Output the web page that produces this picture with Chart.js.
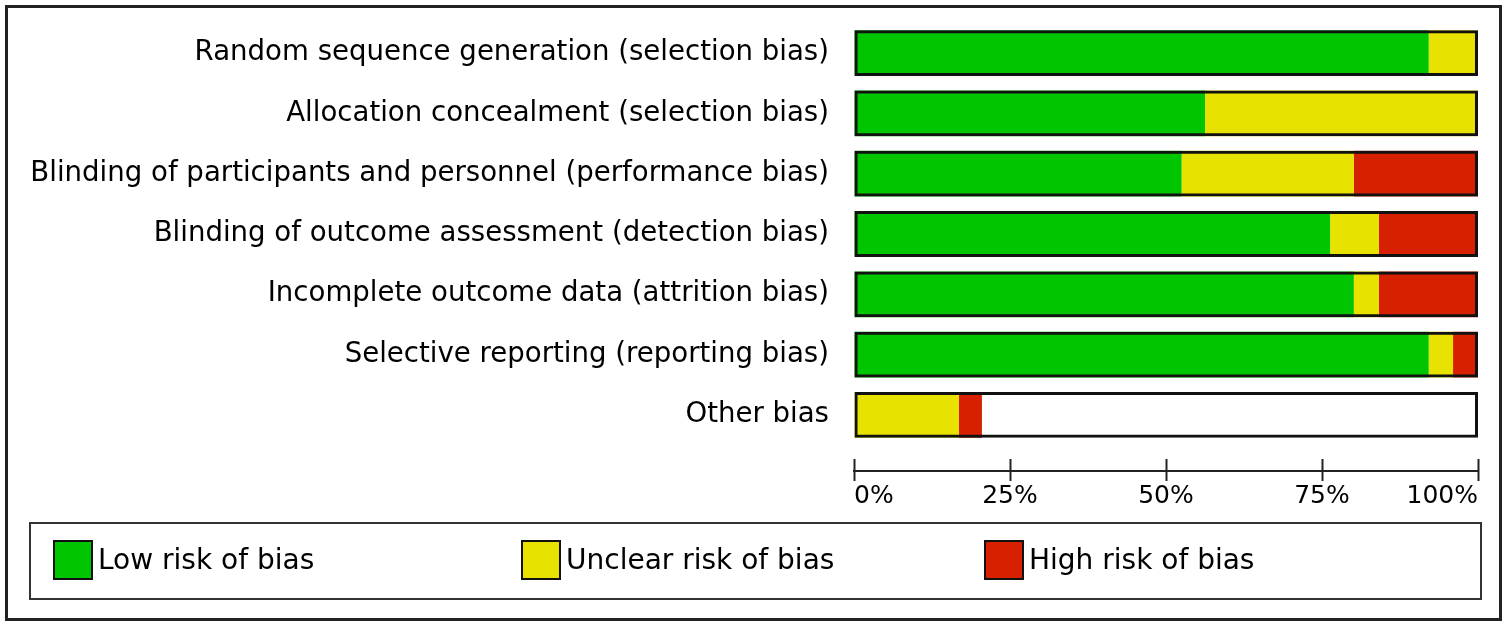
<!DOCTYPE html>
<html>
<head>
<meta charset="utf-8">
<title>Risk of bias graph</title>
<script src="https://cdn.jsdelivr.net/npm/chart.js@4.4.0/dist/chart.umd.min.js"></script>
<style>
    body { margin: 0; background: #fff; font-family: "DejaVu Sans", sans-serif; }
    #wrap { position: relative; width: 1508px; height: 628px; overflow: hidden; }
    #myChart { position: absolute; left: 0; top: 0; }
    #outerFrame { position: absolute; left: 5px; top: 5px; width: 1491px; height: 610px; border: 3px solid #222; }
    #legendBox { position: absolute; left: 29px; top: 522px; width: 1449px; height: 74px; border: 2px solid #333; }
    .legend-item { position: absolute; top: 16px; height: 40px; line-height: 40px; font-size: 28px; color: #000; white-space: nowrap; }
    .legend-item span { position: absolute; left: 0; top: 0; width: 36px; height: 36px; border: 2px solid #111; }
    .legend-item b { position: absolute; left: 45px; top: 0; font-weight: normal; }
</style>
</head>
<body>
<div id="wrap">
    <div id="outerFrame"></div>
    <canvas id="myChart" width="1508" height="628"></canvas>
    <div id="legendBox"></div>
</div>
<script>
/** 数据 */
var categories = [
    'Random sequence generation (selection bias)',
    'Allocation concealment (selection bias)',
    'Blinding of participants and personnel (performance bias)',
    'Blinding of outcome assessment (detection bias)',
    'Incomplete outcome data (attrition bias)',
    'Selective reporting (reporting bias)',
    'Other bias'
]
var lowRisk = [92.1, 56.25, 52.5, 76.3, 80.1, 92.1, 0]
var unclearRisk = [7.9, 43.75, 27.6, 7.8, 4.0, 3.9, 16.8]
var highRisk = [0, 0, 19.9, 15.9, 15.9, 4.0, 3.7]
var frameValues = [100, 100, 100, 100, 100, 100, 100]
var xTicks = [0, 25, 50, 75, 100]

var seriesNames = ['Low risk of bias', 'Unclear risk of bias', 'High risk of bias']
var seriesColors = ['#00c600', '#e8e200', '#d62000']

var riskChart = {
    legendLeft: [22, 490, 953],
    init: function () {
        riskChart.funcs.createLegend()
        riskChart.funcs.createChart()
    },
    funcs: {
        createLegend: function () {
            var box = document.getElementById('legendBox')
            seriesNames.forEach(function (name, i) {
                var item = document.createElement('div')
                item.className = 'legend-item'
                item.style.left = riskChart.legendLeft[i] + 'px'
                item.innerHTML = '<span style="background:' + seriesColors[i] + '"></span><b>' + name + '</b>'
                box.appendChild(item)
            })
        },
        makeSeries: function (label, data, color) {
            return {
                label: label,
                data: data,
                backgroundColor: color,
                borderWidth: 0,
                stack: 'risk',
                order: 1
            }
        },
        createChart: function () {
            var datasets = [
                riskChart.funcs.makeSeries(seriesNames[0], lowRisk, seriesColors[0]),
                riskChart.funcs.makeSeries(seriesNames[1], unclearRisk, seriesColors[1]),
                riskChart.funcs.makeSeries(seriesNames[2], highRisk, seriesColors[2]),
                {
                    /** 每一行外面的黑框 */
                    label: 'frame',
                    data: frameValues,
                    backgroundColor: 'rgba(0,0,0,0)',
                    borderColor: '#111',
                    borderWidth: 3,
                    borderSkipped: false,
                    stack: 'frame',
                    order: 0
                }
            ]
            var ctx = document.getElementById('myChart').getContext('2d')
            new Chart(ctx, {
                type: 'bar',
                data: { labels: categories, datasets: datasets },
                options: {
                    indexAxis: 'y',
                    responsive: false,
                    animation: false,
                    grouped: false,
                    categoryPercentage: 1,
                    barPercentage: 0.76,
                    layout: { padding: { left: 0, right: 30, top: 23, bottom: 183 } },
                    plugins: { legend: { display: false }, tooltip: { enabled: false } },
                    scales: {
                        y: {
                            stacked: true,
                            grid: { display: false, drawTicks: false },
                            border: { display: false },
                            ticks: {
                                color: '#000',
                                padding: 25,
                                font: { family: 'DejaVu Sans', size: 27.6 }
                            },
                            afterFit: function (scale) {
                                scale.width = 854
                                scale.paddingTop = 0
                                scale.paddingBottom = 0
                            }
                        },
                        x: {
                            stacked: true,
                            min: 0,
                            max: 100,
                            position: { y: 6.74 },
                            afterBuildTicks: function (scale) {
                                scale.ticks = xTicks.map(function (v) { return { value: v } })
                            },
                            afterFit: function (scale) {
                                scale.height = 0
                                scale.paddingTop = 0
                                scale.paddingBottom = 0
                            },
                            grid: { drawOnChartArea: false, tickLength: 22, tickWidth: 2, color: '#222' },
                            border: { display: false },
                            ticks: {
                                align: 'inner',
                                padding: 0,
                                color: '#000',
                                font: { family: 'DejaVu Sans', size: 25 },
                                callback: function (v) { return v + '%' }
                            }
                        },
                        xLine: {
                            type: 'linear',
                            axis: 'x',
                            min: 0,
                            max: 100,
                            position: { y: 6.925 },
                            afterFit: function (scale) { scale.height = 0 },
                            grid: { display: false },
                            border: { display: true, color: '#222', width: 2 },
                            ticks: { display: false }
                        }
                    }
                }
            })
        }
    }
}

riskChart.init()
</script>
</body>
</html>
